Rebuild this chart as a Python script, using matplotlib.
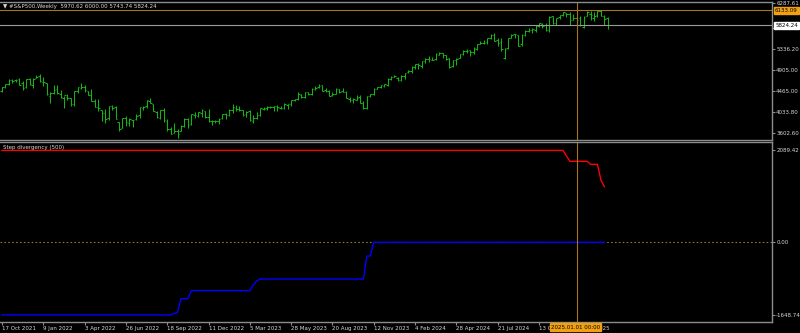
import numpy as np
import matplotlib
matplotlib.use('Agg')
import matplotlib.pyplot as plt
from matplotlib.collections import LineCollection

# ---------------- data ----------------
date_labels = ["17 Oct 2021", "9 Jan 2022", "3 Apr 2022", "26 Jun 2022", "18 Sep 2022",
               "11 Dec 2022", "5 Mar 2023", "28 May 2023", "20 Aug 2023", "12 Nov 2023",
               "4 Feb 2024", "28 Apr 2024", "21 Jul 2024", "13 Oct 2024", "5 Jan 2025"]
date_tick_bars = [0, 12, 24, 36, 48, 60, 72, 84, 96, 108, 120, 132, 144, 156, 168]

opens = [4463, 4553, 4610, 4701, 4689, 4712, 4628, 4548, 4710, 4588, 4733, 4778,
         4655, 4632, 4357, 4432, 4506, 4412, 4332, 4354, 4323, 4203, 4462, 4541,
         4548, 4474, 4385, 4255, 4131, 4082, 4013, 3919, 4151, 4135, 3838, 3715,
         3920, 3810, 3880, 3883, 3965, 4112, 4155, 4270, 4195, 4034, 3910, 4084,
         3849, 3682, 3610, 3640, 3638, 3754, 3883, 3789, 3978, 3956, 4006, 4052,
         3940, 3853, 3843, 3853, 3910, 3999, 3979, 4070, 4120, 4101, 4068, 3992,
         4049, 3853, 3917, 3982, 4103, 4110, 4140, 4132, 4166, 4124, 4126, 4190,
         4205, 4282, 4308, 4396, 4337, 4450, 4404, 4505, 4543, 4584, 4492, 4460,
         4386, 4415, 4511, 4473, 4453, 4310, 4284, 4290, 4343, 4217, 4121, 4365,
         4407, 4514, 4555, 4564, 4593, 4725, 4758, 4746, 4703, 4772, 4856, 4888,
         4957, 5026, 4989, 5093, 5134, 5111, 5123, 5219, 5258, 5211, 5149, 4988,
         5115, 5143, 5233, 5305, 5315, 5283, 5341, 5432, 5460, 5471, 5572, 5630,
         5526, 5477, 5151, 5354, 5557, 5637, 5624, 5442, 5615, 5711, 5737, 5737,
         5817, 5857, 5825, 5724, 6008, 5877, 5992, 6040, 6083, 6063, 5940, 5970,
         5982, 5800, 6014, 6065, 5969, 6046, 6121, 6015, 5970.62]
highs = [4559, 4608, 4718, 4714, 4718, 4744, 4672, 4713, 4743, 4741, 4808, 4818,
         4749, 4632, 4453, 4595, 4590, 4490, 4363, 4416, 4327, 4465, 4546, 4637,
         4593, 4471, 4513, 4308, 4307, 4082, 4090, 4158, 4178, 4168, 3838, 3913,
         3951, 3919, 3880, 3999, 4140, 4167, 4280, 4325, 4203, 4062, 4076, 4119,
         3899, 3736, 3807, 3685, 3762, 3905, 3911, 3993, 4028, 4034, 4101, 4052,
         4101, 3878, 3878, 3906, 4003, 4015, 4095, 4195, 4176, 4166, 4071, 4049,
         4079, 3964, 4039, 4110, 4133, 4163, 4170, 4170, 4186, 4154, 4212, 4210,
         4290, 4298, 4448, 4400, 4458, 4456, 4528, 4578, 4607, 4594, 4527, 4490,
         4458, 4541, 4514, 4527, 4462, 4339, 4320, 4385, 4393, 4255, 4366, 4415,
         4521, 4560, 4598, 4609, 4738, 4778, 4793, 4754, 4802, 4842, 4907, 4975,
         5030, 5048, 5097, 5140, 5189, 5179, 5261, 5265, 5263, 5222, 5150, 5113,
         5146, 5240, 5325, 5342, 5315, 5375, 5447, 5505, 5524, 5570, 5655, 5669,
         5566, 5566, 5358, 5563, 5643, 5651, 5627, 5636, 5733, 5767, 5765, 5823,
         5879, 5878, 5870, 6013, 6018, 5972, 6044, 6100, 6085, 6090, 6050, 5987,
         6021, 6011, 6128, 6121, 6101, 6128, 6147, 6043, 6000.00]
lows = [4447, 4537, 4595, 4630, 4660, 4585, 4495, 4532, 4600, 4532, 4733, 4662,
        4582, 4396, 4222, 4414, 4402, 4327, 4115, 4279, 4157, 4161, 4424, 4507,
        4450, 4381, 4267, 4129, 4063, 3859, 3810, 3875, 4074, 3900, 3637, 3705,
        3740, 3742, 3721, 3863, 3911, 4079, 4112, 4218, 4057, 3907, 3886, 3837,
        3647, 3584, 3600, 3492, 3636, 3735, 3699, 3777, 3906, 3938, 3939, 3918,
        3838, 3764, 3800, 3794, 3885, 3885, 3950, 4015, 4061, 4048, 3944, 3928,
        3847, 3809, 3899, 3952, 4069, 4072, 4114, 4049, 4048, 4099, 4098, 4103,
        4167, 4261, 4291, 4328, 4329, 4385, 4389, 4495, 4528, 4474, 4456, 4364,
        4360, 4413, 4430, 4448, 4317, 4238, 4217, 4283, 4223, 4104, 4104, 4343,
        4393, 4507, 4537, 4546, 4568, 4697, 4751, 4682, 4682, 4714, 4845, 4845,
        4918, 4920, 4946, 5057, 5071, 5104, 5118, 5204, 5146, 5107, 4953, 4969,
        5012, 5142, 5212, 5256, 5191, 5234, 5325, 5432, 5433, 5447, 5546, 5497,
        5390, 5302, 5120, 5330, 5554, 5560, 5402, 5406, 5597, 5691, 5674, 5681,
        5784, 5779, 5703, 5696, 5853, 5823, 5963, 6017, 6001, 5832, 5932, 5829,
        5809, 5773, 6014, 5933, 5923, 6003, 6009, 5837, 5743.74]
closes = [4545, 4605, 4697, 4682, 4698, 4595, 4538, 4712, 4620, 4725, 4766, 4677,
          4662, 4398, 4432, 4500, 4419, 4349, 4385, 4329, 4204, 4463, 4543, 4546,
          4488, 4393, 4272, 4132, 4123, 4024, 3901, 4158, 4109, 3901, 3675, 3912,
          3825, 3899, 3863, 3962, 4130, 4145, 4280, 4228, 4058, 3924, 4067, 3873,
          3693, 3586, 3640, 3583, 3752, 3901, 3771, 3993, 3965, 4026, 4072, 3934,
          3852, 3845, 3840, 3895, 3999, 3973, 4071, 4136, 4090, 4079, 3970, 4046,
          3862, 3917, 3971, 4109, 4105, 4138, 4133, 4169, 4136, 4124, 4192, 4205,
          4282, 4299, 4410, 4348, 4450, 4399, 4505, 4536, 4582, 4478, 4464, 4370,
          4406, 4516, 4457, 4450, 4320, 4288, 4308, 4327, 4224, 4117, 4358, 4415,
          4514, 4559, 4595, 4604, 4719, 4754, 4770, 4697, 4784, 4840, 4891, 4959,
          5027, 5006, 5089, 5137, 5124, 5117, 5234, 5254, 5204, 5123, 4967, 5100,
          5128, 5223, 5303, 5305, 5278, 5347, 5432, 5465, 5460, 5567, 5615, 5505,
          5459, 5346, 5344, 5554, 5634, 5648, 5408, 5626, 5703, 5738, 5751, 5815,
          5864, 5808, 5729, 5995, 5870, 5969, 6032, 6090, 6051, 5931, 5971, 5942,
          5827, 5997, 6101, 6041, 6026, 6115, 6013, 5955, 5824.24]

# Step divergency (500) indicator, one value per bar (bars 0..175)
red_values = ([2089.42] * 164 + [1961] + [1841] * 6 + [1773] * 3 + [1416, 1264])
blue_values = ([-1648.74] * 50 + [-1620, -1591] + [-1282] * 3 + [-1100] * 18 +
               [-970, -880] + [-834] * 31 + [-311] * 2 + [0] * 68)

price_ticks = [6287.61, 5767.40, 5336.20, 4905.00, 4465.00, 4033.80, 3602.60]
price_tick_labels = ["6287.61", "5767.40", "5336.20", "4905.00", "4465.00", "4033.80", "3602.60"]
bid_price = 5824.24
cross_price = 6133.09
cross_bar = 167
cross_label = "2025.01.01 00:00"
title_top = "\u25bc #S&P500,Weekly  5970.62 6000.00 5743.74 5824.24"
title_bottom = "Step divergency (500)"
ind_ticks = [2089.42, 0.0, -1648.74]
ind_tick_labels = ["2089.42", "0.00", "-1648.74"]

# ---------------- figure ----------------
W, H = 800, 333
fig = plt.figure(figsize=(W / 100, H / 100), dpi=100, facecolor='black')
plt.rcParams['font.family'] = ['DejaVu Sans']
FS = 4.0
TXT = '#d8d8d8'
GRID = '#8c8c8c'

x_left, x_right = 0, 772
ax1 = fig.add_axes([x_left / W, 1 - 140 / H, (x_right - x_left) / W, 138 / H])
ax2 = fig.add_axes([x_left / W, 1 - 322 / H, (x_right - x_left) / W, 180 / H])

px_per_bar = 3.442
xmin = -2 / px_per_bar
xmax = (x_right - 2) / px_per_bar

for ax in (ax1, ax2):
    ax.set_facecolor('black')
    ax.set_xlim(xmin, xmax)
    ax.spines['left'].set_visible(False)
    for s in ('top', 'right', 'bottom'):
        ax.spines[s].set_color(GRID)
        ax.spines[s].set_linewidth(1.0)
    ax.yaxis.tick_right()
    ax.tick_params(axis='y', colors=GRID, labelcolor=TXT, labelsize=FS, length=2, width=0.8, pad=1)

# price bars
idx = np.arange(len(closes))
segs = []
for i in idx:
    segs.append([(i, lows[i]), (i, highs[i])])
    segs.append([(i - 0.45, opens[i]), (i, opens[i])])
    segs.append([(i, closes[i]), (i + 0.45, closes[i])])
lc = LineCollection(segs, colors='#14b414', linewidths=0.75)
ax1.add_collection(lc)
ax1.set_ylim(3458, 6306)
ax1.set_yticks(price_ticks)
ax1.set_yticklabels(price_tick_labels)
for t in ax1.get_yticklabels():
    t.set_horizontalalignment('left')
ax1.set_xticks([])

# bid line & crosshair in price pane
ax1.axhline(bid_price, color='#9a9a9a', lw=0.8)
ax1.axhline(cross_price, color='#a8741c', lw=0.8)
ax1.axvline(cross_bar, color='#a8741c', lw=0.8)
ax1.text(1.004, bid_price, "5824.24", transform=ax1.get_yaxis_transform(), fontsize=FS,
         color='black', va='center', ha='left', zorder=10,
         bbox=dict(boxstyle='square,pad=0.15', fc='white', ec='white'))
ax1.text(1.004, cross_price, "6133.09", transform=ax1.get_yaxis_transform(), fontsize=FS,
         color='black', va='center', ha='left', zorder=10,
         bbox=dict(boxstyle='square,pad=0.15', fc='#f0a010', ec='#f0a010'))
ax1.text(3 / 772, 0.985, title_top, transform=ax1.transAxes, fontsize=FS, color=TXT,
         va='top', ha='left')

# indicator pane
ibars = np.arange(len(red_values))
ax2.axhline(0, color='#8a7a30', lw=0.8, linestyle=(0, (1.5, 2)))
ax2.plot(ibars, red_values, color='#ff0000', lw=1.0)
ax2.plot(np.arange(len(blue_values)), blue_values, color='#0000ff', lw=1.0)
ax2.axvline(cross_bar, color='#a8741c', lw=0.8)
ax2.set_ylim(-1811, 2280)
ax2.set_yticks(ind_ticks)
ax2.set_yticklabels(ind_tick_labels)
for t in ax2.get_yticklabels():
    t.set_horizontalalignment('left')
ax2.text(3 / 772, 0.985, title_bottom, transform=ax2.transAxes, fontsize=FS, color=TXT,
         va='top', ha='left')

ax2.set_xticks(date_tick_bars)
ax2.set_xticklabels(date_labels)
ax2.tick_params(axis='x', colors=GRID, labelcolor=TXT, labelsize=FS, length=2.5, width=0.8, pad=0.5)
for t in ax2.get_xticklabels():
    t.set_horizontalalignment('left')

ax2.text(cross_bar - 0.3, -0.014, cross_label, transform=ax2.get_xaxis_transform(), fontsize=FS,
         color='black', va='top', ha='center', zorder=10, clip_on=False,
         bbox=dict(boxstyle='square,pad=0.2', fc='#f0a010', ec='#f0a010'))

fig.savefig('out.png', dpi=100, facecolor='black')
